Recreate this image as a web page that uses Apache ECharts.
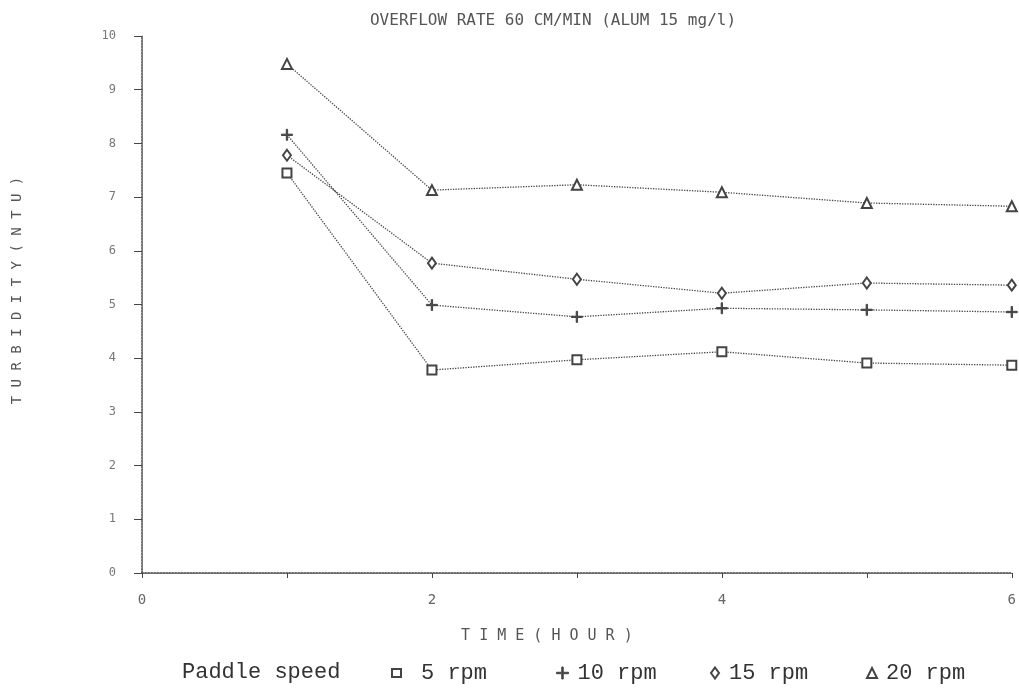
<!DOCTYPE html>
<html>
<head>
<meta charset="utf-8">
<script src="https://cdn.jsdelivr.net/npm/echarts@6/dist/echarts.min.js"></script>
<style>html,body{margin:0;padding:0;background:#fff}#c{width:1019px;height:697px}</style>
</head>
<body>
<div id="c"></div>
<script>
// ---- data ----
const hours = [1, 2, 3, 4, 5, 6];
const rpm5  = [7.45, 3.78, 3.97, 4.12, 3.91, 3.87];
const rpm10 = [8.16, 4.99, 4.77, 4.93, 4.90, 4.86];
const rpm15 = [7.78, 5.77, 5.47, 5.21, 5.40, 5.36];
const rpm20 = [9.48, 7.13, 7.23, 7.09, 6.89, 6.83];
const seriesNames = ['5 rpm', '10 rpm', '15 rpm', '20 rpm'];
const xTickLabels = [0, 2, 4, 6];
const yTickLabels = [0, 1, 2, 3, 4, 5, 6, 7, 8, 9, 10];

const titleText = 'OVERFLOW RATE 60 CM/MIN (ALUM 15 mg/l)';
const xName = 'T I M E ( H O U R )';
const yName = 'T U R B I D I T Y ( N T U )';
const legendLead = 'Paddle speed';

const INK = '#444';
const plusPath = 'path://M4.4,0H5.6V4.4H10V5.6H5.6V10H4.4V5.6H0V4.4H4.4Z';
const symbols = ['emptyRect', plusPath, 'emptyDiamond', 'emptyTriangle'];
const symbolSizes = [9, 11, [8, 11], [10, 10]];
const legendIcons = ['emptyRect', plusPath, 'emptyDiamond', 'emptyTriangle'];
const legendLefts = [386, 551, 705, 861];
const legendPads = [15, 4, 5, 4];
const legendSizes = [[9, 8], [12, 12], [8, 11], [10, 10]];
const values = [rpm5, rpm10, rpm15, rpm20];

const chart = echarts.init(document.getElementById('c'));

const series = seriesNames.map((n, i) => ({
  name: n,
  type: 'line',
  data: hours.map((h, j) => [h, values[i][j]]),
  symbol: symbols[i],
  symbolSize: symbolSizes[i],
  showAllSymbol: true,
  lineStyle: { color: INK, width: 1.3, type: 'dotted' },
  itemStyle: { color: INK, borderColor: INK, borderWidth: 1 },
  emphasis: { disabled: true },
  animation: false
}));

const legends = seriesNames.map((n, i) => ({
  data: [{ name: n, icon: legendIcons[i] }],
  left: legendLefts[i],
  top: 656,
  itemWidth: legendSizes[i][0],
  itemHeight: legendSizes[i][1],
  selectedMode: false,
  itemStyle: { color: INK, borderColor: INK, borderWidth: 1 },
  textStyle: {
    fontFamily: 'Liberation Mono',
    fontSize: 22,
    color: '#333',
    lineHeight: 24,
    padding: [0, 0, 0, legendPads[i]]
  }
}));

chart.setOption({
  backgroundColor: '#fff',
  animation: false,
  title: {
    text: titleText,
    left: 548,
    textAlign: 'center',
    top: 8,
    textStyle: { fontFamily: 'DejaVu Sans Mono', fontSize: 16, fontWeight: 'normal', color: '#555' }
  },
  legend: legends,
  graphic: [{
    type: 'text',
    left: 182,
    top: 660,
    style: { text: legendLead, font: '22px "Liberation Mono"', fill: '#333', lineHeight: 24 }
  }],
  grid: { left: 142, right: 2, top: 36, bottom: 124 },
  xAxis: [{
    type: 'value',
    min: 0, max: 6, interval: 1,
    name: xName,
    nameLocation: 'middle',
    nameGap: 56,
    nameTextStyle: { fontFamily: 'DejaVu Sans Mono', fontSize: 15, color: '#555', padding: [0, 60, 0, 0] },
    axisLine: { show: true, lineStyle: { color: INK, width: 1.5, type: 'dotted' } },
    axisTick: { show: true, length: 5, lineStyle: { color: INK } },
    axisLabel: {
      margin: 20,
      fontFamily: 'DejaVu Sans Mono',
      fontSize: 14,
      color: '#666',
      formatter: v => (xTickLabels.indexOf(v) >= 0 ? String(v) : '')
    },
    splitLine: { show: false }
  }, {
    type: 'value', position: 'top',
    min: 0, max: 6, interval: 1,
    axisLine: { show: true, lineStyle: { color: '#666', width: 1.2, type: 'dotted' } },
    axisTick: { show: false }, axisLabel: { show: false }, splitLine: { show: false }
  }],
  yAxis: [{
    type: 'value',
    min: 0, max: 10, interval: 1,
    name: yName,
    nameLocation: 'middle',
    nameGap: 118,
    nameRotate: 90,
    nameTextStyle: { fontFamily: 'DejaVu Sans Mono', fontSize: 14, color: '#555', padding: [0, 0, 0, 28] },
    axisLine: { show: true, lineStyle: { color: INK, width: 1.5, type: 'dotted' } },
    axisTick: { show: true, length: 8, lineStyle: { color: INK } },
    axisLabel: {
      margin: 26,
      fontFamily: 'DejaVu Sans Mono',
      fontSize: 12,
      color: '#777',
      formatter: v => (yTickLabels.indexOf(v) >= 0 ? String(v) : '')
    },
    splitLine: { show: false }
  }, {
    type: 'value', position: 'right',
    min: 0, max: 10, interval: 1,
    axisLine: { show: true, lineStyle: { color: '#777', width: 1 } },
    axisTick: { show: false }, axisLabel: { show: false }, splitLine: { show: false }
  }],
  series: series
});
</script>
</body>
</html>
